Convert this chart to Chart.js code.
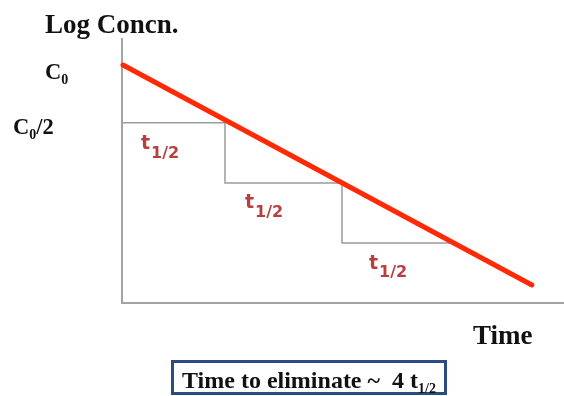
<!DOCTYPE html>
<html>
<head>
<meta charset="utf-8">
<script src="https://cdn.jsdelivr.net/npm/chart.js@4"></script>
<style>
  html, body { margin: 0; padding: 0; background: #fff; }
  #wrap { position: relative; width: 564px; height: 396px; overflow: hidden; }
  canvas { position: absolute; left: 0; top: 0; }
  .lbl { position: absolute; white-space: nowrap; }
  .serif { font-family: "Liberation Serif", "Times New Roman", serif; font-weight: bold; color: #111; }
  .th { font-family: "DejaVu Sans", Verdana, sans-serif; font-weight: bold; color: #b5403f; font-size: 19px; line-height: 19px; }
  .th .s { position: relative; top: 8.5px; font-size: 16px; line-height: 0; margin-left: 1px; }
  .sub { position: relative; line-height: 0; }
  #box { position: absolute; left: 171px; top: 360px; width: 270px; height: 29px; border: 3px solid #2b4c7e; background: #fff; }
</style>
</head>
<body>
<div id="wrap">
  <canvas id="c" width="564" height="396"></canvas>
  <div class="lbl serif" style="left:45px; top:10.9px; font-size:27px; line-height:27px;">Log Concn.</div>
  <div class="lbl serif" style="left:45px; top:61.2px; font-size:22.5px; line-height:22.5px;">C<span class="sub" style="font-size:14px; top:5px;">0</span></div>
  <div class="lbl serif" style="left:13px; top:116.2px; font-size:22.5px; line-height:22.5px;">C<span class="sub" style="font-size:14px; top:5px;">0</span>/2</div>
  <div class="lbl serif" style="left:473px; top:322.4px; font-size:27px; line-height:27px;">Time</div>
  <div class="lbl th" style="left:141px; top:133.4px;">t<span class="s">1/2</span></div>
  <div class="lbl th" style="left:245px; top:192.4px;">t<span class="s">1/2</span></div>
  <div class="lbl th" style="left:369px; top:252.9px;">t<span class="s">1/2</span></div>
  <div id="box"></div>
  <div class="lbl serif" style="left:182px; top:367.6px; font-size:24px; line-height:24px;">Time to eliminate ~&nbsp;&nbsp;4 t<span class="sub" style="font-size:14px; top:5px;">1/2</span></div>
</div>
<script>
// Axis ranges (time in arbitrary units, log concentration in arbitrary units)
const xRange = [0, 4.4];
const yRange = [0, 5];

// Axis frame
const axisX = [0, 0, 4.4];
const axisY = [5, 0, 0];

// Half-life staircase (time, log concentration)
const stepX = [0, 1.025, 1.025, 2.19, 2.19, 3.265];
const stepY = [3.40, 3.40, 2.264, 2.264, 1.132, 1.132];

// Elimination line (log C vs time)
const lineX = [0.01, 4.08];
const lineY = [4.49, 0.34];

const pts = (xs, ys) => xs.map((x, i) => ({ x: x, y: ys[i] }));

new Chart(document.getElementById('c'), {
  type: 'scatter',
  data: {
    datasets: [
      { data: pts(axisX, axisY), showLine: true, borderColor: '#a3a3a3', borderWidth: 2, pointRadius: 0, clip: false, order: 3 },
      { data: pts(stepX, stepY), showLine: true, borderColor: '#9c9c9c', borderWidth: 1.5, pointRadius: 0, clip: false, order: 2 },
      { data: pts(lineX, lineY), showLine: true, borderColor: '#ff2a05', borderWidth: 5, pointRadius: 0, clip: false, borderCapStyle: 'round', order: 1 }
    ]
  },
  options: {
    responsive: false,
    animation: false,
    events: [],
    layout: { padding: { left: 122, right: 0, top: 38, bottom: 93 } },
    plugins: { legend: { display: false }, tooltip: { enabled: false } },
    scales: {
      x: { type: 'linear', min: xRange[0], max: xRange[1], display: false },
      y: { type: 'linear', min: yRange[0], max: yRange[1], display: false }
    }
  }
});
</script>
</body>
</html>
